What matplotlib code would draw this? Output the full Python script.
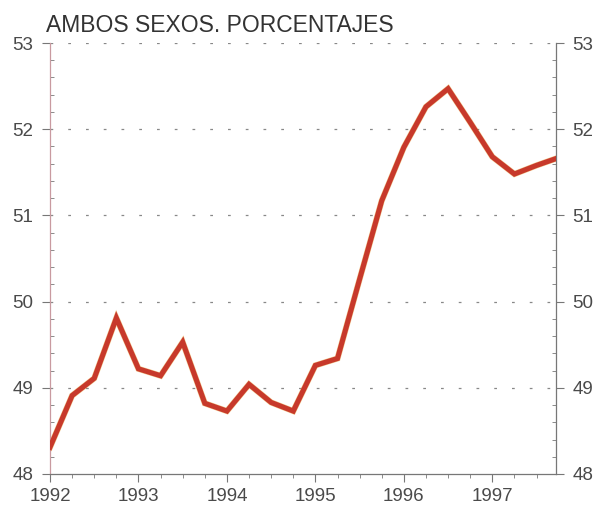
import matplotlib
matplotlib.use("Agg")
import matplotlib.pyplot as plt
import numpy as np
from matplotlib.ticker import MultipleLocator

# quarterly series, 1992Q1 .. 1997Q4
quarters = np.arange(1992.0, 1997.76, 0.25)
pct = [48.31, 48.91, 49.11, 49.81, 49.22, 49.14, 49.53, 48.82,
       48.73, 49.04, 48.83, 48.73, 49.26, 49.34, 50.26, 51.17,
       51.79, 52.26, 52.47, 52.08, 51.68, 51.48, 51.58, 51.67]
years = [1992, 1993, 1994, 1995, 1996, 1997]
levels = [48, 49, 50, 51, 52, 53]

LINE = "#c7392b"
AXIS_L = "#c99aa0"
AXIS_B = "#777777"
TXT = "#4a4a4a"

plt.rcParams["font.family"] = ["Liberation Sans", "DejaVu Sans"]

fig = plt.figure(figsize=(5.95, 5.09), dpi=100)
ax = fig.add_axes([50/595, 35/509, 506/595, 431/509])

# dotted guide lines at each whole percent
for lv in levels[1:]:
    ax.axhline(lv, color="#888888", lw=0.9, ls=(0, (2.2, 12)), zorder=1)

ax.plot(quarters, pct, color="#e8a030", lw=4.4, solid_joinstyle="miter",
        zorder=2, alpha=0.5)
ax.plot(quarters, pct, color=LINE, lw=3.7, solid_joinstyle="miter", zorder=3)

ax.set_xlim(1992, 1997.72)
ax.set_ylim(48, 53)
ax.set_xticks(years)
ax.xaxis.set_minor_locator(MultipleLocator(0.25))
ax.set_yticks(levels)
ax.yaxis.set_minor_locator(MultipleLocator(0.2))

ax.spines["top"].set_visible(False)
ax.spines["left"].set_color(AXIS_L)
ax.spines["right"].set_color(AXIS_B)
ax.spines["bottom"].set_color(AXIS_B)
for s in ("left", "right", "bottom"):
    ax.spines[s].set_linewidth(0.9)

ax.tick_params(axis="y", which="major", direction="out", length=6,
               color=AXIS_B, labelsize=13.5, labelcolor=TXT,
               left=True, right=True, labelleft=True, labelright=True, pad=6)
ax.tick_params(axis="y", which="minor", direction="in", length=3,
               color=AXIS_B, left=True, right=True)
ax.tick_params(axis="x", which="major", direction="out", length=6,
               color=AXIS_B, labelsize=13.5, labelcolor=TXT, pad=4)
ax.tick_params(axis="x", which="minor", direction="out", length=3,
               color=AXIS_B)

fig.text(46/595, 1 - 32/509, "AMBOS SEXOS. PORCENTAJES", fontsize=16.5,
         color="#333333", va="baseline", ha="left")

fig.savefig("out.png", dpi=100)
